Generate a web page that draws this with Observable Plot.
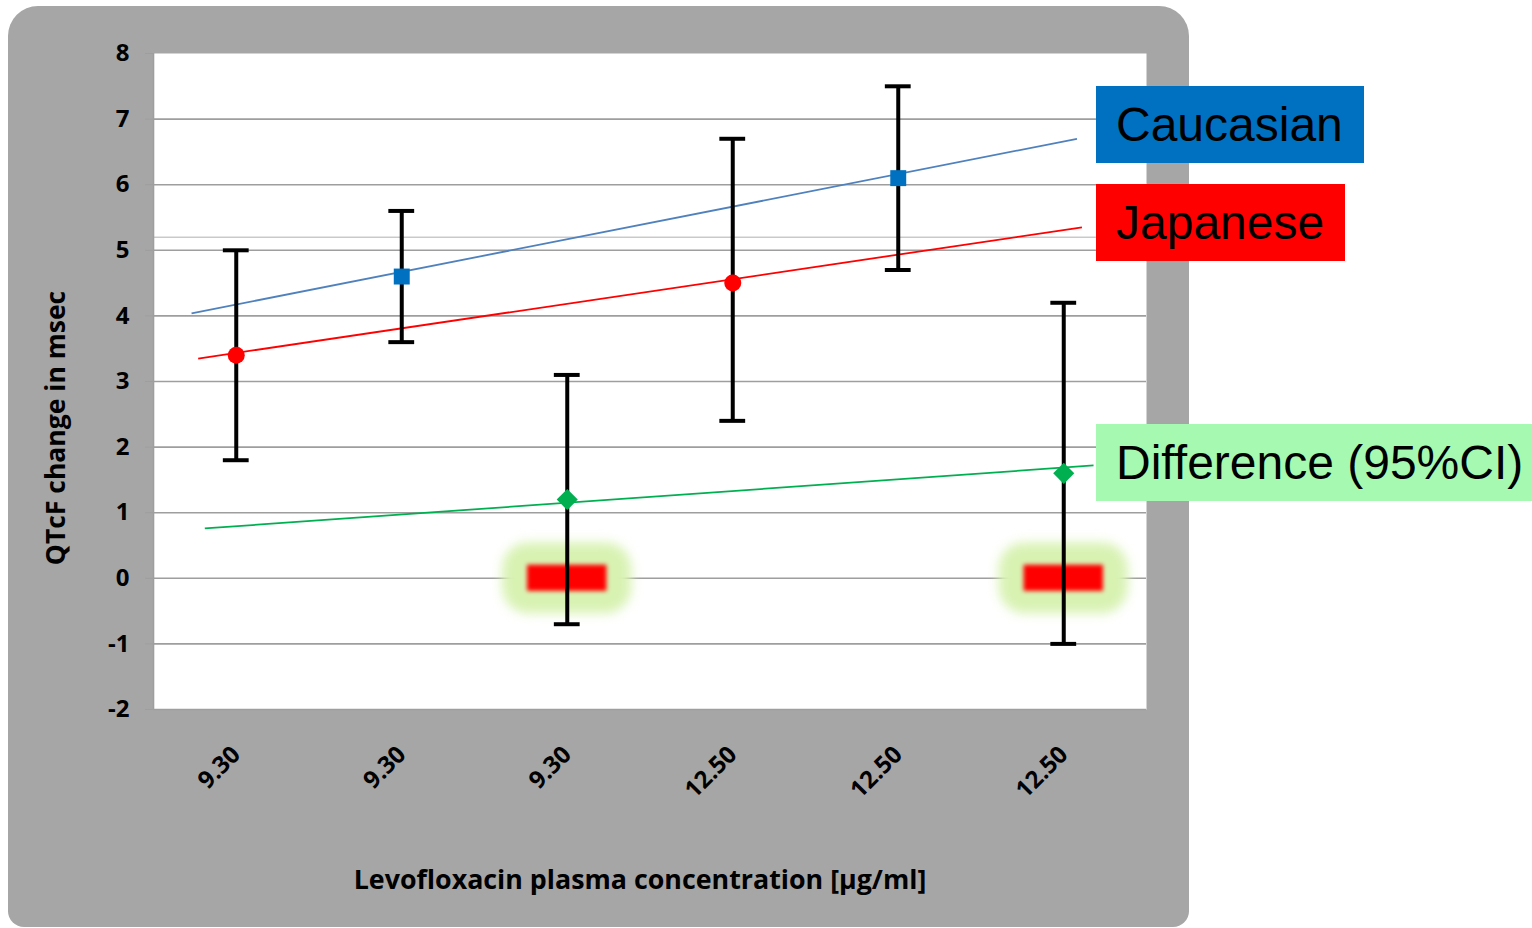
<!DOCTYPE html>
<html>
<head>
<meta charset="utf-8">
<script src="https://cdn.jsdelivr.net/npm/d3@7"></script>
<script src="https://cdn.jsdelivr.net/npm/@observablehq/plot@0.6"></script>
<style>
  html, body { margin: 0; padding: 0; background: #ffffff; width: 1532px; height: 928px; overflow: hidden; }
  #bg { position: absolute; left: 8px; top: 6px; width: 1181px; height: 921px; background: #a6a6a6; border-radius: 30px 30px 16px 16px; }
  #chart { position: absolute; left: 0; top: 0; }
  .title { position: absolute; font-family: "Open Sans", sans-serif; font-weight: 700; color: #000; white-space: nowrap; }
  #ytitle { left: 55px; top: 428px; font-size: 26.5px; transform: translate(-50%, -50%) rotate(-90deg); }
  #xtitle { left: 640px; top: 878px; font-size: 26.8px; transform: translate(-50%, -50%); }
  .legend { position: absolute; font-family: "Liberation Sans", Arial, sans-serif; font-size: 48px; color: #000; height: 77px; line-height: 77px; padding-left: 20px; box-sizing: border-box; white-space: nowrap; }
</style>
</head>
<body>
<div id="bg"></div>
<div id="chart"></div>
<div class="title" id="ytitle">QTcF change in msec</div>
<div class="title" id="xtitle">Levofloxacin plasma concentration [µg/ml]</div>
<div class="legend" style="left:1096px; top:86px; width:268px; background:#0070c0;">Caucasian</div>
<div class="legend" style="left:1096px; top:184px; width:249px; background:#ff0000;">Japanese</div>
<div class="legend" style="left:1096px; top:424px; width:436px; background:#a6f9b0;">Difference (95%CI)</div>
<script>
// ---- data ----
const categories = [1, 2, 3, 4, 5, 6];
const tickLabels = ["9.30", "9.30", "9.30", "12.50", "12.50", "12.50"];
const series = ["Japanese", "Caucasian", "Difference", "Japanese", "Caucasian", "Difference"];
const means = [3.4, 4.6, 1.2, 4.5, 6.1, 1.6];
const lower = [1.8, 3.6, -0.7, 2.4, 4.7, -1.0];
const upper = [5.0, 5.6, 3.1, 6.7, 7.5, 4.2];

const trendSeries = ["Caucasian", "Japanese", "Difference"];
const trendX1 = [0.73, 0.77, 0.81];
const trendX2 = [6.08, 6.11, 6.18];
const trendY1 = [4.04, 3.35, 0.76];
const trendY2 = [6.70, 5.35, 1.72];

const highlightCats = [3, 6];
const highlightValue = [0, 0];

const yTicks = [-2, -1, 0, 1, 2, 3, 4, 5, 6, 7, 8];
const gridValues = [-2, -1, 0, 1, 2, 3, 4, 5, 6, 7];
const extraGrid = [5.2];

// ---- tables ----
const points = categories.map((c, i) => ({x: c, series: series[i], mean: means[i], lo: lower[i], hi: upper[i]}));
const trends = trendSeries.map((s, i) => ({series: s, x1: trendX1[i], x2: trendX2[i], y1: trendY1[i], y2: trendY2[i]}));
const highlights = highlightCats.map((c, i) => ({x: c, y: highlightValue[i]}));

const trendColor = {Caucasian: "#4f81bd", Japanese: "#ff0000", Difference: "#00b050"};

const plot = Plot.plot({
  width: 1190,
  height: 928,
  marginLeft: 153,
  marginRight: 44,
  marginTop: 53,
  marginBottom: 219,
  style: {background: "transparent", overflow: "visible"},
  x: {type: "linear", domain: [0.5, 6.5]},
  y: {domain: [-2, 8]},
  marks: [
    Plot.frame({fill: "white", stroke: null}),
    Plot.ruleY(gridValues, {stroke: "#9e9e9e", strokeWidth: 1.6}),
    Plot.ruleY(extraGrid, {stroke: "#b0b0b0", strokeWidth: 1}),
    Plot.ruleX([0.5], {stroke: "#9e9e9e", strokeWidth: 1.6}),
    Plot.axisY({ticks: yTicks, tickFormat: d => String(d), tickSize: 8, tickPadding: 16, stroke: "#9e9e9e", fill: "black", label: null}),
    Plot.axisX({ticks: categories, tickFormat: d => tickLabels[d - 1], tickRotate: -45, tickSize: 0, tickPadding: 41, fill: "black", label: null}),
    // highlight glow
    Plot.rect(highlights, {x1: d => d.x - 0.39, x2: d => d.x + 0.39, y1: d => d.y - 0.54, y2: d => d.y + 0.54,
      fill: "#d8f2b2", rx: 26}),
    Plot.rect(highlights, {x1: d => d.x - 0.24, x2: d => d.x + 0.24, y1: d => d.y - 0.2, y2: d => d.y + 0.2,
      fill: "#fe0000"}),
    // trend lines
    Plot.link(trends, {x1: "x1", x2: "x2", y1: "y1", y2: "y2", stroke: d => trendColor[d.series], strokeWidth: 1.8}),
    // error bars
    Plot.ruleX(points, {x: "x", y1: "lo", y2: "hi", stroke: "black", strokeWidth: 4}),
    Plot.ruleY(points, {y: "lo", x1: d => d.x - 0.078, x2: d => d.x + 0.078, stroke: "black", strokeWidth: 4}),
    Plot.ruleY(points, {y: "hi", x1: d => d.x - 0.078, x2: d => d.x + 0.078, stroke: "black", strokeWidth: 4}),
    // markers
    Plot.dot(points.filter(d => d.series === "Japanese"), {x: "x", y: "mean", symbol: "circle", r: 8.5, fill: "#ff0000"}),
    Plot.dot(points.filter(d => d.series === "Caucasian"), {x: "x", y: "mean", symbol: "square", r: 9, fill: "#0070c0"}),
    Plot.dot(points.filter(d => d.series === "Difference"), {x: "x", y: "mean", symbol: "diamond2", r: 9.5, fill: "#00b050"})
  ]
});

const svg = d3.select(plot);
svg.insert("defs", ":first-child").html(
  '<filter id="blurG" x="-40%" y="-60%" width="180%" height="220%"><feGaussianBlur stdDeviation="5.5"/></filter>' +
  '<filter id="blurR" x="-40%" y="-80%" width="180%" height="260%"><feGaussianBlur stdDeviation="2.2"/></filter>'
);
svg.selectAll('[fill="#d8f2b2"]').attr("filter", "url(#blurG)");
svg.selectAll('[fill="#fe0000"]').attr("filter", "url(#blurR)");
svg.selectAll("text").style("font-size", "24px").style("font-weight", "700").style("font-family", "'Open Sans', sans-serif");

document.getElementById("chart").appendChild(plot);
</script>
</body>
</html>
